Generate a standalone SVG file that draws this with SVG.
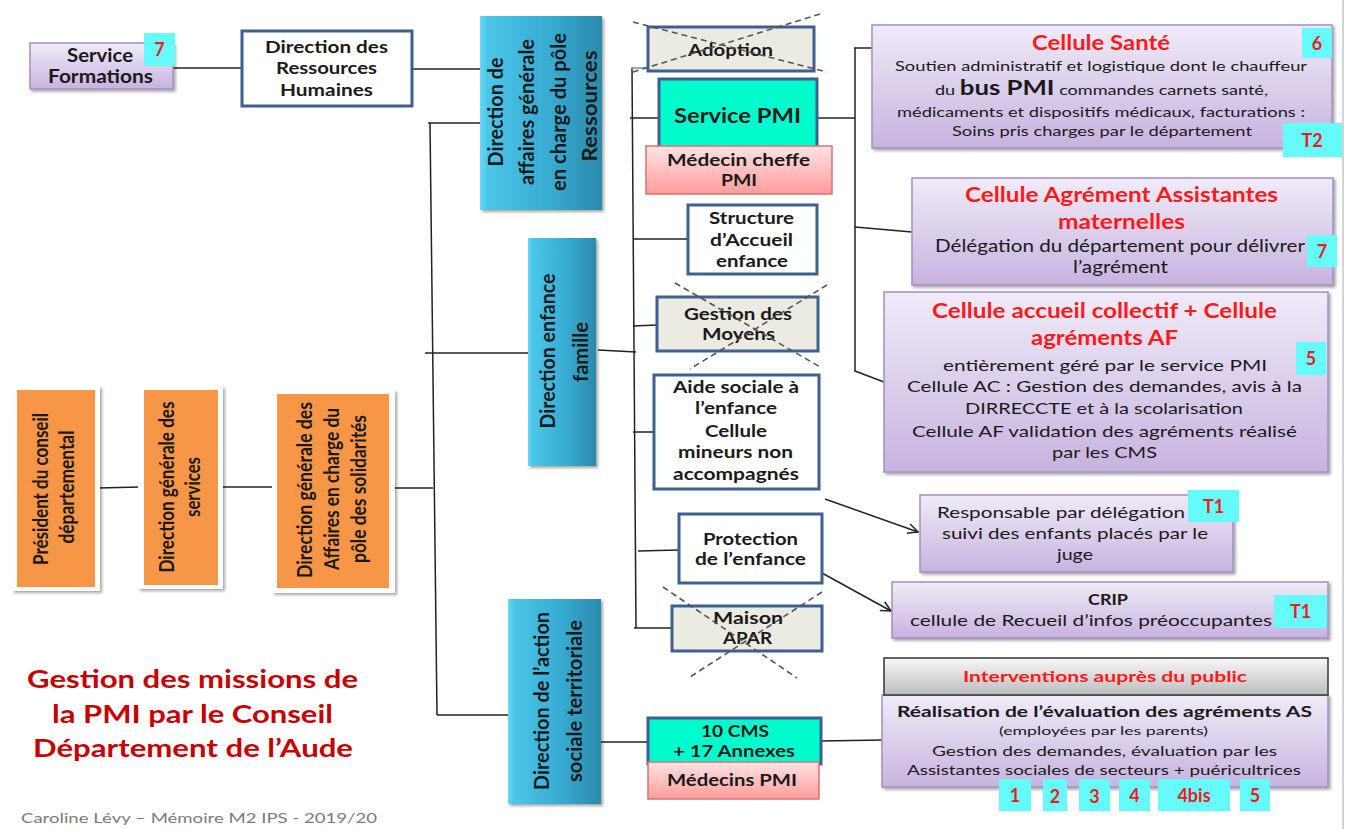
<svg xmlns="http://www.w3.org/2000/svg" width="1349" height="829" viewBox="0 0 1349 829">
<defs>
<linearGradient id="lav" x1="0" y1="0" x2="0" y2="1"><stop offset="0" stop-color="#f0ebf8"/><stop offset="1" stop-color="#c7b3df"/></linearGradient>
<linearGradient id="pink" x1="0" y1="0" x2="0" y2="1"><stop offset="0" stop-color="#ffe3e3"/><stop offset="1" stop-color="#ff9c9c"/></linearGradient>
<linearGradient id="gray" x1="0" y1="0" x2="0" y2="1"><stop offset="0" stop-color="#f7f7f7"/><stop offset="1" stop-color="#bdbdbd"/></linearGradient>
<linearGradient id="blue" x1="0" y1="0" x2="1" y2="0"><stop offset="0" stop-color="#6ad9f4"/><stop offset="0.06" stop-color="#4cc6ea"/><stop offset="0.6" stop-color="#36a9d0"/><stop offset="1" stop-color="#2b8aab"/></linearGradient>
<filter id="sh" x="-10%" y="-10%" width="130%" height="130%"><feDropShadow dx="2" dy="2" stdDeviation="1.5" flood-color="#000" flood-opacity="0.35"/></filter>
<marker id="arr" viewBox="0 0 12 12" refX="11" refY="6" markerWidth="12" markerHeight="12" markerUnits="userSpaceOnUse" orient="auto"><path d="M1,1 L11,6 L1,11" fill="none" stroke="#222" stroke-width="1.5"/></marker>
<style>
text{font-family:Lato,"Liberation Sans",sans-serif;fill:#1a1a1a}
.b{font-weight:700}
.c{text-anchor:middle}
.red{fill:#ff1a1a;font-weight:700}
.badge{fill:#66fbfb}
.bt{fill:#ee1c1c;font-weight:700;font-size:18px;text-anchor:middle}
.lav{fill:url(#lav);stroke:#a28ec2;stroke-width:1.5;filter:url(#sh)}
.wb{fill:#fff;stroke:#3d5f92;stroke-width:3}
.beige{fill:#ecebe1;stroke:#3d5f92;stroke-width:3}
.teal{fill:#00fccd;stroke:#3d5f92;stroke-width:3}
.pink{fill:url(#pink);stroke:#d97171;stroke-width:1.5}
.bl{fill:url(#blue);filter:url(#sh)}
.or{fill:#f79646}
.ow{fill:#fff;filter:url(#sh)}
.ln{stroke:#222;stroke-width:1.5;fill:none}
.x{stroke:#555;stroke-width:1.6;stroke-dasharray:6 4;fill:none}
.rot{font-weight:700;text-anchor:middle;font-size:21px}
</style>
</defs>
<rect width="1349" height="829" fill="#fff"/>
<line x1="1343" y1="0" x2="1343" y2="829" stroke="#d4d4d4" stroke-width="2"/>

<g id="connectors">
<line class="ln" x1="173" y1="68" x2="241" y2="68"/>
<line class="ln" x1="412" y1="69" x2="480" y2="69"/>
<line class="ln" x1="430" y1="123" x2="437" y2="715"/>
<line class="ln" x1="428" y1="123" x2="480" y2="123"/>
<line class="ln" x1="425" y1="353" x2="528" y2="353"/>
<line class="ln" x1="392" y1="488" x2="433" y2="488"/>
<line class="ln" x1="437" y1="715" x2="508" y2="715"/>
<line class="ln" x1="97" y1="488" x2="141" y2="487"/>
<line class="ln" x1="221" y1="487" x2="273" y2="487"/>
<line class="ln" x1="632" y1="68" x2="636" y2="628"/>
<line x1="631" y1="68" x2="648" y2="68" stroke="#6a8cc0" stroke-width="1.5"/>
<line class="ln" x1="630" y1="118" x2="659" y2="118"/>
<line class="ln" x1="633" y1="239" x2="688" y2="239"/>
<line class="ln" x1="633" y1="326" x2="657" y2="325"/>
<line class="ln" x1="598" y1="350" x2="636" y2="352"/>
<line class="ln" x1="633" y1="432" x2="653" y2="432"/>
<line class="ln" x1="638" y1="551" x2="679" y2="550"/>
<line class="ln" x1="634" y1="628" x2="672" y2="628"/>
<line class="ln" x1="594" y1="742" x2="648" y2="742"/>
<line class="ln" x1="821" y1="741" x2="883" y2="740"/>
<line class="ln" x1="817" y1="118" x2="855" y2="118"/>
<line class="ln" x1="855" y1="48" x2="855" y2="372"/>
<line class="ln" x1="854" y1="48" x2="872" y2="48"/>
<line class="ln" x1="855" y1="227" x2="912" y2="232"/>
<line class="ln" x1="855" y1="371" x2="884" y2="382"/>
<line class="ln" x1="825" y1="499" x2="918" y2="532" marker-end="url(#arr)"/>
<line class="ln" x1="822" y1="573" x2="891" y2="611" marker-end="url(#arr)"/>
</g>

<g id="service-formations">
<rect class="lav" x="30" y="43" width="143" height="46"/>
<text class="b c" font-size="18" x="100" y="62" textLength="66" lengthAdjust="spacingAndGlyphs">Service</text>
<text class="b c" font-size="18" x="100.5" y="83" textLength="105" lengthAdjust="spacingAndGlyphs">Formations</text>
<rect class="badge" x="144" y="33" width="31" height="33"/>
<text class="bt" font-size="19" x="159.5" y="56">7</text>
</g>

<g id="drh">
<rect class="wb" x="242" y="31" width="170" height="75"/>
<text class="b c" font-size="17" x="326.5" y="53" textLength="123" lengthAdjust="spacingAndGlyphs">Direction des</text>
<text class="b c" font-size="17" x="326.5" y="74" textLength="101" lengthAdjust="spacingAndGlyphs">Ressources</text>
<text class="b c" font-size="17" x="326.5" y="96" textLength="93" lengthAdjust="spacingAndGlyphs">Humaines</text>
</g>

<g id="dir-affaires-ressources">
<rect class="bl" x="480" y="16" width="122" height="194"/>
<g transform="translate(503,112) rotate(-90)"><text class="rot" x="0" y="0" textLength="109" lengthAdjust="spacingAndGlyphs">Direction de</text></g>
<g transform="translate(534,112) rotate(-90)"><text class="rot" x="0" y="0" textLength="146" lengthAdjust="spacingAndGlyphs">affaires générale</text></g>
<g transform="translate(566,112) rotate(-90)"><text class="rot" x="0" y="0" textLength="158" lengthAdjust="spacingAndGlyphs">en charge du pôle</text></g>
<g transform="translate(597,106) rotate(-90)"><text class="rot" x="0" y="0" textLength="111" lengthAdjust="spacingAndGlyphs">Ressources</text></g>
</g>

<g id="dir-enfance-famille">
<rect class="bl" x="528" y="238" width="68" height="228"/>
<g transform="translate(555,351) rotate(-90)"><text class="rot" x="0" y="0" textLength="155" lengthAdjust="spacingAndGlyphs">Direction enfance</text></g>
<g transform="translate(588,352) rotate(-90)"><text class="rot" x="0" y="0" textLength="60" lengthAdjust="spacingAndGlyphs">famille</text></g>
</g>

<g id="dir-action-sociale">
<rect class="bl" x="508" y="599" width="93" height="205"/>
<g transform="translate(549,701) rotate(-90)"><text class="rot" x="0" y="0" textLength="178" lengthAdjust="spacingAndGlyphs">Direction de l’action</text></g>
<g transform="translate(582,701) rotate(-90)"><text class="rot" x="0" y="0" textLength="162" lengthAdjust="spacingAndGlyphs">sociale territoriale</text></g>
</g>

<g id="president">
<rect class="ow" x="12" y="386" width="88" height="205"/>
<rect class="or" x="17" y="390" width="78" height="197"/>
<g transform="translate(48,489) rotate(-90)"><text class="rot" font-size="18" x="0" y="0" textLength="152" lengthAdjust="spacingAndGlyphs">Président du conseil</text></g>
<g transform="translate(74,487) rotate(-90)"><text class="rot" font-size="18" x="0" y="0" textLength="113" lengthAdjust="spacingAndGlyphs">départemental</text></g>
</g>

<g id="dgs">
<rect class="ow" x="138" y="386" width="85" height="203"/>
<rect class="or" x="144" y="390" width="74" height="195"/>
<g transform="translate(174,487) rotate(-90)"><text class="rot" font-size="18" x="0" y="0" textLength="171" lengthAdjust="spacingAndGlyphs">Direction générale des</text></g>
<g transform="translate(200,487) rotate(-90)"><text class="rot" font-size="18" x="0" y="0" textLength="60" lengthAdjust="spacingAndGlyphs">services</text></g>
</g>

<g id="dga-solidarites">
<rect class="ow" x="272" y="390" width="123" height="203"/>
<rect class="or" x="277" y="394" width="112" height="194"/>
<g transform="translate(312,490) rotate(-90)"><text class="rot" font-size="18" x="0" y="0" textLength="176" lengthAdjust="spacingAndGlyphs">Direction générale  des</text></g>
<g transform="translate(339,489) rotate(-90)"><text class="rot" font-size="18" x="0" y="0" textLength="162" lengthAdjust="spacingAndGlyphs">Affaires en charge du</text></g>
<g transform="translate(366,489) rotate(-90)"><text class="rot" font-size="18" x="0" y="0" textLength="148" lengthAdjust="spacingAndGlyphs">pôle des solidarités</text></g>
</g>

<g id="adoption">
<rect class="beige" x="648" y="27" width="166" height="44"/>
<text class="b c" font-size="17" x="730.5" y="56" textLength="85" lengthAdjust="spacingAndGlyphs">Adoption</text>
<line class="x" x1="633" y1="22" x2="827" y2="72"/>
<line class="x" x1="820" y1="14" x2="633" y2="72"/>
</g>

<g id="service-pmi">
<rect class="teal" x="659" y="79" width="158" height="70"/>
<text class="b c" font-size="21" x="737.5" y="123" textLength="127" lengthAdjust="spacingAndGlyphs">Service PMI</text>
</g>

<g id="medecin-cheffe">
<rect class="pink" x="646" y="146" width="186" height="48"/>
<text class="b c" font-size="17" x="738.5" y="166" textLength="143" lengthAdjust="spacingAndGlyphs">Médecin cheffe</text>
<text class="b c" font-size="17" x="739" y="186" textLength="36" lengthAdjust="spacingAndGlyphs">PMI</text>
</g>

<g id="structure-accueil">
<rect class="wb" x="688" y="205" width="129" height="69"/>
<text class="b c" font-size="17" x="751.5" y="224" textLength="85" lengthAdjust="spacingAndGlyphs">Structure</text>
<text class="b c" font-size="17" x="751.5" y="246" textLength="83" lengthAdjust="spacingAndGlyphs">d’Accueil</text>
<text class="b c" font-size="17" x="752" y="267" textLength="72" lengthAdjust="spacingAndGlyphs">enfance</text>
</g>

<g id="gestion-moyens">
<rect class="beige" x="657" y="297" width="161" height="54"/>
<text class="b c" font-size="17" x="738" y="320" textLength="108" lengthAdjust="spacingAndGlyphs">Gestion des</text>
<text class="b c" font-size="17" x="738.5" y="340" textLength="73" lengthAdjust="spacingAndGlyphs">Moyens</text>
<line class="x" x1="675" y1="283" x2="822" y2="368"/>
<line class="x" x1="827" y1="285" x2="690" y2="369"/>
</g>

<g id="aide-sociale">
<rect class="wb" x="654" y="375" width="165" height="114"/>
<text class="b c" font-size="17" x="736" y="393" textLength="126" lengthAdjust="spacingAndGlyphs">Aide sociale à</text>
<text class="b c" font-size="17" x="736" y="414" textLength="82" lengthAdjust="spacingAndGlyphs">l’enfance</text>
<text class="b c" font-size="17" x="736" y="437" textLength="62" lengthAdjust="spacingAndGlyphs">Cellule</text>
<text class="b c" font-size="17" x="735.5" y="458" textLength="115" lengthAdjust="spacingAndGlyphs">mineurs non</text>
<text class="b c" font-size="17" x="736" y="480" textLength="126" lengthAdjust="spacingAndGlyphs">accompagnés</text>
</g>

<g id="protection-enfance">
<rect class="wb" x="679" y="514" width="143" height="69"/>
<text class="b c" font-size="17" x="750.5" y="545" textLength="95" lengthAdjust="spacingAndGlyphs">Protection</text>
<text class="b c" font-size="17" x="750.5" y="565" textLength="111" lengthAdjust="spacingAndGlyphs">de l’enfance</text>
</g>

<g id="maison-apar">
<rect class="beige" x="672" y="606" width="150" height="45"/>
<text class="b c" font-size="17" x="748" y="624" textLength="70" lengthAdjust="spacingAndGlyphs">Maison</text>
<text class="b c" font-size="17" x="747.5" y="644" textLength="49" lengthAdjust="spacingAndGlyphs">APAR</text>
<line class="x" x1="663" y1="587" x2="797" y2="678"/>
<line class="x" x1="822" y1="592" x2="690" y2="677"/>
</g>

<g id="cms">
<rect class="teal" x="648" y="718" width="173" height="46"/>
<text class="b c" font-size="17" x="735" y="737" textLength="68" lengthAdjust="spacingAndGlyphs">10 CMS</text>
<text class="b c" font-size="17" x="734" y="757" textLength="122" lengthAdjust="spacingAndGlyphs">+ 17 Annexes</text>
</g>

<g id="medecins-pmi">
<rect class="pink" x="648" y="762" width="171" height="37"/>
<text class="b c" font-size="17" x="732" y="786" textLength="130" lengthAdjust="spacingAndGlyphs">Médecins PMI</text>
</g>

<g id="cellule-sante">
<rect class="lav" x="872" y="25" width="460" height="123"/>
<text class="red c" font-size="20" x="1101" y="50" textLength="138" lengthAdjust="spacingAndGlyphs">Cellule Santé</text>
<text class="c" font-size="14" x="1101" y="71" textLength="412" lengthAdjust="spacingAndGlyphs">Soutien administratif et logistique dont le chauffeur</text>
<text class="c" font-size="14" x="1101.5" y="95" textLength="333" lengthAdjust="spacingAndGlyphs">du <tspan class="b" font-size="20">bus PMI</tspan> commandes carnets santé,</text>
<text class="c" font-size="14" x="1101" y="117" textLength="408" lengthAdjust="spacingAndGlyphs">médicaments et dispositifs médicaux, facturations :</text>
<text class="c" font-size="14" x="1102" y="136" textLength="300" lengthAdjust="spacingAndGlyphs">Soins pris charges par le département</text>
<rect class="badge" x="1302" y="28" width="30" height="30"/>
<text class="bt" x="1317" y="50">6</text>
<rect class="badge" x="1283" y="123" width="59" height="34"/>
<text class="bt" x="1312" y="147">T2</text>
</g>

<g id="cellule-agrement">
<rect class="lav" x="912" y="178" width="421" height="107"/>
<text class="red c" font-size="21" x="1121.5" y="202" textLength="313" lengthAdjust="spacingAndGlyphs">Cellule Agrément Assistantes</text>
<text class="red c" font-size="21" x="1121.5" y="229" textLength="127" lengthAdjust="spacingAndGlyphs">maternelles</text>
<text class="c" font-size="17" x="1120" y="252" textLength="370" lengthAdjust="spacingAndGlyphs">Délégation du département pour délivrer</text>
<text class="c" font-size="17" x="1120.5" y="273" textLength="95" lengthAdjust="spacingAndGlyphs">l’agrément</text>
<rect class="badge" x="1307" y="235" width="30" height="32"/>
<text class="bt" x="1322" y="258">7</text>
</g>

<g id="cellule-accueil">
<rect class="lav" x="884" y="292" width="444" height="180"/>
<text class="red c" font-size="20" x="1104.5" y="318" textLength="345" lengthAdjust="spacingAndGlyphs">Cellule accueil collectif + Cellule</text>
<text class="red c" font-size="20" x="1104.5" y="345" textLength="147" lengthAdjust="spacingAndGlyphs">agréments AF</text>
<text class="c" font-size="16" x="1105" y="371" textLength="324" lengthAdjust="spacingAndGlyphs">entièrement géré par le service PMI</text>
<text class="c" font-size="16" x="1104.5" y="392" textLength="395" lengthAdjust="spacingAndGlyphs">Cellule AC : Gestion des demandes, avis à la</text>
<text class="c" font-size="16" x="1104" y="414" textLength="278" lengthAdjust="spacingAndGlyphs">DIRRECCTE et à la scolarisation</text>
<text class="c" font-size="16" x="1104.5" y="437" textLength="385" lengthAdjust="spacingAndGlyphs">Cellule AF validation des agréments réalisé</text>
<text class="c" font-size="16" x="1104.5" y="458" textLength="105" lengthAdjust="spacingAndGlyphs">par les CMS</text>
<rect class="badge" x="1296" y="342" width="30" height="33"/>
<text class="bt" x="1311" y="365">5</text>
</g>

<g id="responsable">
<rect class="lav" x="920" y="495" width="313" height="77"/>
<text class="c" font-size="16" x="1061" y="518" textLength="248" lengthAdjust="spacingAndGlyphs">Responsable par délégation</text>
<text class="c" font-size="16" x="1075" y="539" textLength="266" lengthAdjust="spacingAndGlyphs">suivi des enfants placés par le</text>
<text class="c" font-size="16" x="1075" y="560" textLength="36" lengthAdjust="spacingAndGlyphs">juge</text>
<rect class="badge" x="1188" y="490" width="51" height="32"/>
<text class="bt" x="1213.5" y="513">T1</text>
</g>

<g id="crip">
<rect class="lav" x="892" y="582" width="436" height="56"/>
<text class="b c" font-size="16" x="1108" y="605" textLength="40" lengthAdjust="spacingAndGlyphs">CRIP</text>
<text class="c" font-size="16" x="1091" y="626" textLength="362" lengthAdjust="spacingAndGlyphs">cellule de Recueil d’infos préoccupantes</text>
<rect class="badge" x="1274" y="595" width="53" height="33"/>
<text class="bt" x="1300.5" y="618">T1</text>
</g>

<g id="interventions">
<rect class="lav" x="882" y="695" width="446" height="92"/>
<rect x="884" y="658" width="444" height="37" fill="url(#gray)" stroke="#333" stroke-width="1.5"/>
<text class="red c" font-size="16" x="1105" y="682" textLength="284" lengthAdjust="spacingAndGlyphs">Interventions auprès du public</text>
<text class="b c" font-size="16" x="1104.5" y="717" textLength="415" lengthAdjust="spacingAndGlyphs">Réalisation de l’évaluation des agréments AS</text>
<text class="c" font-size="12" x="1103.5" y="735" textLength="209" lengthAdjust="spacingAndGlyphs">(employées par les parents)</text>
<text class="c" font-size="14" x="1104.5" y="756" textLength="345" lengthAdjust="spacingAndGlyphs">Gestion des demandes, évaluation par les</text>
<text class="c" font-size="14" x="1104" y="775" textLength="394" lengthAdjust="spacingAndGlyphs">Assistantes sociales de secteurs + puéricultrices</text>
<rect class="badge" x="999" y="779" width="32" height="32"/>
<text class="bt" x="1015" y="802">1</text>
<rect class="badge" x="1043" y="779" width="24" height="32"/>
<text class="bt" x="1055" y="803">2</text>
<rect class="badge" x="1079" y="779" width="31" height="32"/>
<text class="bt" x="1094.5" y="803">3</text>
<rect class="badge" x="1119" y="779" width="31" height="32"/>
<text class="bt" x="1134.5" y="802">4</text>
<rect class="badge" x="1158" y="779" width="72" height="32"/>
<text class="bt" x="1194" y="802">4bis</text>
<rect class="badge" x="1240" y="779" width="30" height="32"/>
<text class="bt" x="1255" y="802">5</text>
</g>

<g id="title">
<text class="b c" font-size="24" style="fill:#c90000" x="192.5" y="688" textLength="331" lengthAdjust="spacingAndGlyphs">Gestion des missions de</text>
<text class="b c" font-size="24" style="fill:#c90000" x="192.5" y="723" textLength="281" lengthAdjust="spacingAndGlyphs">la PMI par le Conseil</text>
<text class="b c" font-size="24" style="fill:#c90000" x="193" y="757" textLength="320" lengthAdjust="spacingAndGlyphs">Département de l’Aude</text>
</g>

<g id="caption">
<text font-size="14" style="fill:#7a7a7a" x="21" y="823" textLength="356" lengthAdjust="spacingAndGlyphs">Caroline Lévy – Mémoire M2 IPS - 2019/20</text>
</g>
</svg>
